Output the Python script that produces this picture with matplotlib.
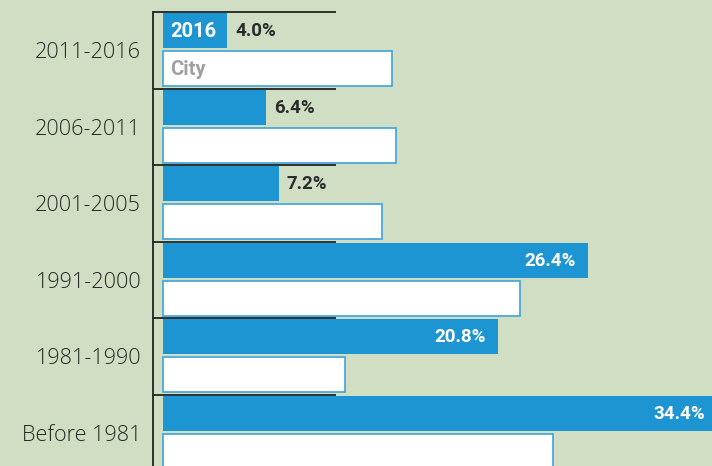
import matplotlib
matplotlib.use('Agg')
import matplotlib.pyplot as plt

periods = ['2011-2016', '2006-2011', '2001-2005', '1991-2000', '1981-1990', 'Before 1981']
share_2016 = [4.0, 6.4, 7.2, 26.4, 20.8, 34.4]
share_city = [14.2, 14.5, 13.6, 22.2, 11.3, 24.2]

BG = '#d0dfc4'
BLUE = '#1e95d3'
VALUE_FONT = ['Roboto', 'DejaVu Sans']

plt.rcParams['font.family'] = ['Open Sans', 'DejaVu Sans']

fig = plt.figure(figsize=(7.12, 4.66), dpi=100, facecolor=BG)
ax = fig.add_axes([153 / 712, 0, 1 - 153 / 712, 1])
ax.set_facecolor(BG)

# pixel-based scale: 16.1 px per percent, bars start 10 px right of the axis line
px = 16.1
ax.set_xlim(-10 / px, (712 - 163) / px)
grp = 76.5
ax.set_ylim((466 - 12) / grp, -12 / grp)

bar_h = 35 / grp
y_blue = [i + 18.5 / grp for i in range(len(periods))]
y_city = [i + 56.5 / grp for i in range(len(periods))]

ax.barh(y_blue, share_2016, height=bar_h, color=BLUE, zorder=2)
ax.barh(y_city, share_city, height=bar_h, color='white', edgecolor='#3da2dc',
        linewidth=1.2, zorder=2)

for y, v in zip(y_blue, share_2016):
    if v > 10:
        ax.annotate(f'{v:.1f}%', (v, y), xytext=(-8.6, -0.7), textcoords='offset points',
                    ha='right', va='center', color='white', fontsize=13.5,
                    fontweight='bold', family=VALUE_FONT, annotation_clip=False)
    else:
        ax.annotate(f'{v:.1f}%', (v, y), xytext=(5.8, -0.7), textcoords='offset points',
                    ha='left', va='center', color='#2b2b2b', fontsize=13.5,
                    fontweight='bold', family=VALUE_FONT)

# legend-like labels inside the first pair of bars
ax.annotate('2016', (0, y_blue[0]), xytext=(5, -0.7), textcoords='offset points',
            ha='left', va='center', color='white', fontsize=14.5, fontweight='bold',
            family=VALUE_FONT)
ax.annotate('City', (0, y_city[0]), xytext=(5, -0.7), textcoords='offset points',
            ha='left', va='center', color='#a0a0a0', fontsize=14.5, fontweight='bold',
            family=VALUE_FONT)

# separators
ax.hlines(range(len(periods)), -10 / px, (336 - 163) / px, color='#222222',
          linewidth=1.3, zorder=3)

for s in ['top', 'right', 'bottom']:
    ax.spines[s].set_visible(False)
ax.spines['left'].set_color('#222222')
ax.spines['left'].set_linewidth(1.3)
ax.spines['left'].set_bounds(0, (466 - 12) / grp)

ax.set_xticks([])
ax.set_yticks([i + 0.5 for i in range(len(periods))])
ax.set_yticklabels(periods, fontsize=15.6, color='#262626', fontweight='light')
ax.tick_params(axis='y', length=0, pad=8.5)

fig.savefig('out.png', dpi=100, facecolor=BG)
